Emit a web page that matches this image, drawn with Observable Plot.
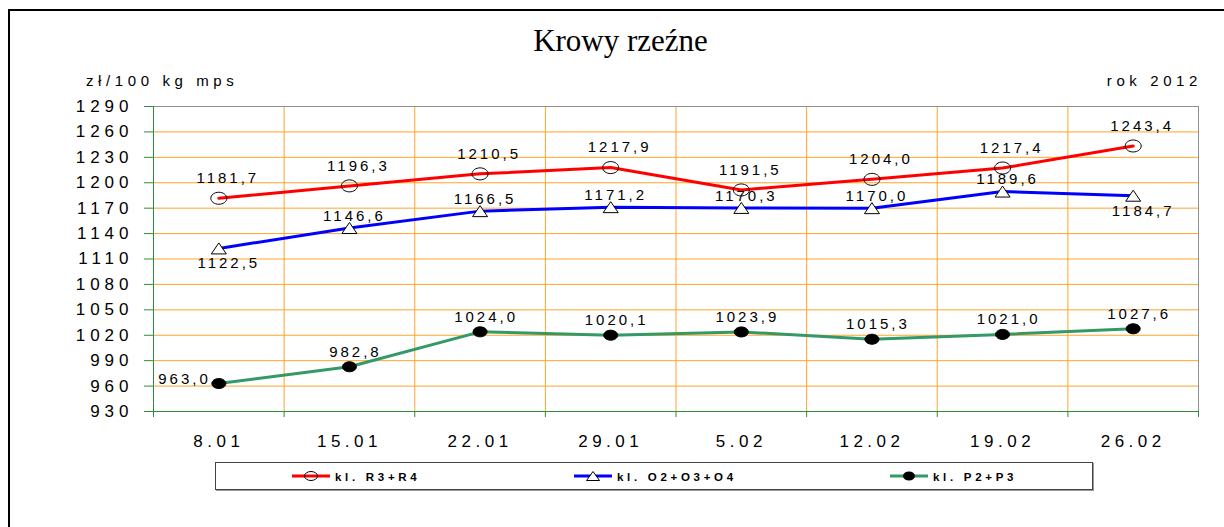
<!DOCTYPE html>
<html><head><meta charset="utf-8">
<script src="https://cdn.jsdelivr.net/npm/d3@7"></script>
<script src="https://cdn.jsdelivr.net/npm/@observablehq/plot@0.6"></script>
<style>
html,body{margin:0;padding:0;background:#fff;}
#wrap{position:relative;width:1224px;height:527px;overflow:hidden;font-family:"Liberation Sans",Arial,sans-serif;color:#000;}
#frame{position:absolute;left:8px;top:9px;width:1300px;height:600px;border-left:2px solid #000;border-top:2px solid #000;}
#chart{position:absolute;left:0;top:0;}
.lbl{position:absolute;white-space:nowrap;line-height:1;}
#title{font-family:"Liberation Serif","Times New Roman",serif;font-size:31px;top:25px;left:620.5px;transform:translateX(-50%);}
#unit{font-size:15px;letter-spacing:4.6px;left:86px;top:73.3px;}
#year{font-size:15px;letter-spacing:4.6px;right:22px;top:73.3px;}
#legend{position:absolute;left:215px;top:462px;width:876px;height:26px;border:1px solid #444;box-shadow:1px 1px 0 #999;background:#fff;}
.leg{font-size:11.5px;font-weight:bold;letter-spacing:3.7px;top:472px;}
.sw{position:absolute;top:469px;}
#chart svg g[aria-label="text"]{letter-spacing:3px;}
#chart svg g[aria-label="y-axis tick label"]{letter-spacing:5px;}
#chart svg g[aria-label="x-axis tick label"]{letter-spacing:4.5px;}
</style></head>
<body>
<div id="wrap">
  <div id="frame"></div>
  <div id="chart"></div>
  <div id="title" class="lbl"></div>
  <div id="unit" class="lbl"></div>
  <div id="year" class="lbl"></div>
  <div id="legend"></div>
</div>
<script>
// ---- data ----
const dates = ["8.01","15.01","22.01","29.01","5.02","12.02","19.02","26.02"];
const seriesNames = ["kl. R3+R4","kl. O2+O3+O4","kl. P2+P3"];
const r3r4   = [1181.7,1196.3,1210.5,1217.9,1191.5,1204.0,1217.4,1243.4];
const o2o3o4 = [1122.5,1146.6,1166.5,1171.2,1170.3,1170.0,1189.6,1184.7];
const p2p3   = [963.0,982.8,1024.0,1020.1,1023.9,1015.3,1021.0,1027.6];
const yTicks = [930,960,990,1020,1050,1080,1110,1140,1170,1200,1230,1260,1290];
const titleText = "Krowy rzeźne";
const unitText = "zł/100 kg mps";
const yearText = "rok 2012";

// ---- build ----
const rows = vals => vals.map((v,i)=>({i, v}));
const R = rows(r3r4), O = rows(o2o3o4), P = rows(p2p3);
const fmt = d => d.v.toFixed(1).replace(".", ",");
const idx = dates.map((d,i)=>i);
const bounds = d3.range(dates.length+1).map(k=>k-0.5);
const last = dates.length-1;

function ellipse(rx, ry){
  const k = 0.5522847498;
  return {draw(c){
    c.moveTo(rx,0);
    c.bezierCurveTo(rx, ry*k, rx*k, ry, 0, ry);
    c.bezierCurveTo(-rx*k, ry, -rx, ry*k, -rx, 0);
    c.bezierCurveTo(-rx, -ry*k, -rx*k, -ry, 0, -ry);
    c.bezierCurveTo(rx*k, -ry, rx, -ry*k, rx, 0);
    c.closePath();
  }};
}
function triangle(w,h){
  return {draw(c){ c.moveTo(0,-h/2); c.lineTo(w/2,h/2); c.lineTo(-w/2,h/2); c.closePath(); }};
}

const ORANGE="#FFA52A", GREEN="#2E8B3A", GRAY="#8F8F8F";
const RED="#FF0000", BLUE="#0000FF", SEA="#339966";

const chart = Plot.plot({
  width:1224, height:527, marginLeft:153, marginRight:26, marginTop:106, marginBottom:116,
  style:{fontFamily:'"Liberation Sans", Arial, sans-serif', fontSize:"17px", color:"#000", background:"transparent", overflow:"visible"},
  x:{type:"linear", domain:[-0.5, last+0.5]},
  y:{domain:[yTicks[0], yTicks[yTicks.length-1]]},
  marks:[
    Plot.ruleY(yTicks.slice(1,-1), {stroke:ORANGE}),
    Plot.ruleX(bounds.slice(1,-1), {stroke:ORANGE}),
    Plot.ruleY([yTicks[yTicks.length-1]], {stroke:GRAY}),
    Plot.ruleX([bounds[bounds.length-1]], {stroke:GRAY}),
    Plot.ruleX([bounds[0]], {stroke:GREEN}),
    Plot.ruleY([yTicks[0]], {stroke:GREEN}),
    Plot.axisY({ticks:yTicks, tickSize:9, tickFormat:()=>"", stroke:GREEN, label:null}),
    Plot.axisY({ticks:yTicks, tickSize:0, tickPadding:20, tickFormat:d=>String(d), fill:"#000", label:null}),
    Plot.axisX({ticks:bounds, tickSize:6, tickFormat:()=>"", stroke:GREEN, label:null}),
    Plot.axisX({ticks:idx, tickSize:0, tickPadding:23, tickFormat:i=>dates[i], fill:"#000", label:null}),
    Plot.line(R, {x:"i", y:"v", stroke:RED, strokeWidth:3}),
    Plot.line(O, {x:"i", y:"v", stroke:BLUE, strokeWidth:3}),
    Plot.line(P, {x:"i", y:"v", stroke:SEA, strokeWidth:3}),
    Plot.dot(R, {x:"i", y:"v", r:6, symbol:ellipse(8,6), fill:"none", stroke:"#000", strokeWidth:1}),
    Plot.dot(O, {x:"i", y:"v", r:6, symbol:triangle(15,11), fill:"#fff", stroke:"#000", strokeWidth:1}),
    Plot.dot(P, {x:"i", y:"v", r:6, symbol:ellipse(7,5), fill:"#000", stroke:"#000", strokeWidth:1}),
    Plot.text(R, {x:"i", y:"v", text:fmt, dx:9, dy:-20, fontSize:15, fill:"#000"}),
    Plot.text(O, {x:"i", y:"v", text:fmt, filter:d=>d.i>0 && d.i<last, dx:5, dy:-12, fontSize:15, fill:"#000"}),
    Plot.text(O, {x:"i", y:"v", text:fmt, filter:d=>d.i===0 || d.i===last, dx:10, dy:15, fontSize:15, fill:"#000"}),
    Plot.text(P, {x:"i", y:"v", text:fmt, filter:d=>d.i>0, dx:6, dy:-15, fontSize:15, fill:"#000"}),
    Plot.text(P, {x:"i", y:"v", text:fmt, filter:d=>d.i===0, textAnchor:"end", dx:-8, dy:-4, fontSize:15, fill:"#000"})
  ]
});
document.getElementById("chart").appendChild(chart);
document.getElementById("title").textContent = titleText;
document.getElementById("unit").textContent = unitText;
document.getElementById("year").textContent = yearText;

// ---- legend ----
const wrap = document.getElementById("wrap");
const legendX = [290, 572, 888];
const legendColors = [RED, BLUE, SEA];
const ns = "http://www.w3.org/2000/svg";
seriesNames.forEach((name, k) => {
  const svg = document.createElementNS(ns, "svg");
  svg.setAttribute("width", 42); svg.setAttribute("height", 14);
  svg.setAttribute("class", "sw");
  svg.style.left = legendX[k] + "px";
  const ln = document.createElementNS(ns, "line");
  ln.setAttribute("x1", 2); ln.setAttribute("x2", 40); ln.setAttribute("y1", 7); ln.setAttribute("y2", 7);
  ln.setAttribute("stroke", legendColors[k]); ln.setAttribute("stroke-width", 3);
  svg.appendChild(ln);
  let m;
  if (k === 0) {
    m = document.createElementNS(ns, "ellipse");
    m.setAttribute("cx", 21); m.setAttribute("cy", 7); m.setAttribute("rx", 6.5); m.setAttribute("ry", 4.5);
    m.setAttribute("fill", "none"); m.setAttribute("stroke", "#000");
  } else if (k === 1) {
    m = document.createElementNS(ns, "path");
    m.setAttribute("d", "M21,2.5L27.5,11.5L14.5,11.5Z");
    m.setAttribute("fill", "#fff"); m.setAttribute("stroke", "#000");
  } else {
    m = document.createElementNS(ns, "ellipse");
    m.setAttribute("cx", 21); m.setAttribute("cy", 7); m.setAttribute("rx", 6); m.setAttribute("ry", 4.5);
    m.setAttribute("fill", "#000");
  }
  svg.appendChild(m);
  wrap.appendChild(svg);
  const t = document.createElement("div");
  t.className = "lbl leg";
  t.style.left = (legendX[k] + 45) + "px";
  t.textContent = name;
  wrap.appendChild(t);
});
</script>
</body></html>
